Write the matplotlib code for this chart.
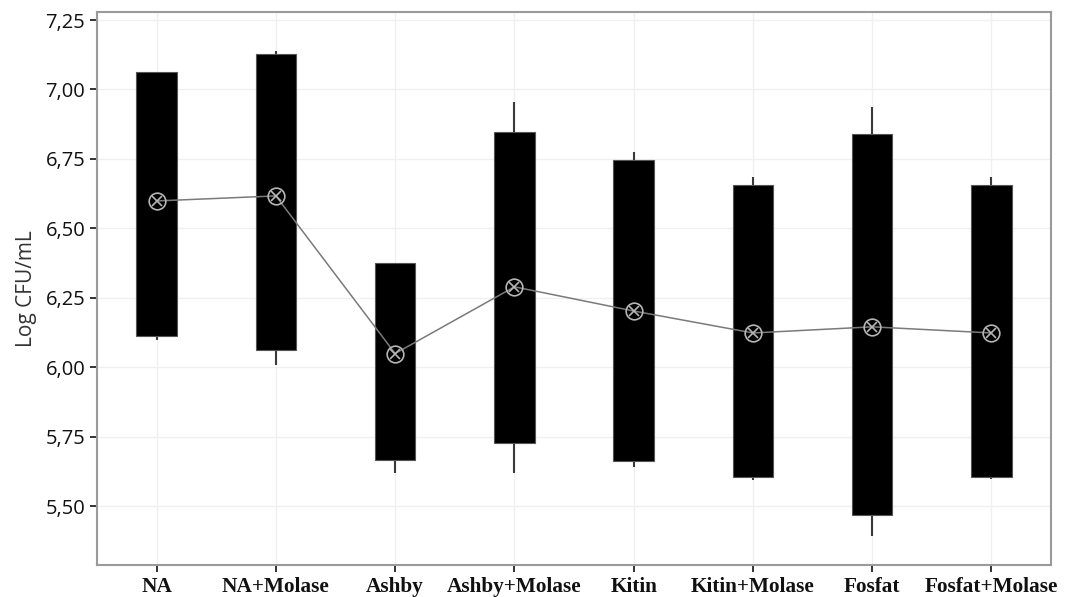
import matplotlib.pyplot as plt
from matplotlib.ticker import FuncFormatter

categories = ["NA", "NA+Molase", "Ashby", "Ashby+Molase", "Kitin",
              "Kitin+Molase", "Fosfat", "Fosfat+Molase"]
q1 = [6.113, 6.063, 5.667, 5.728, 5.664, 5.606, 5.469, 5.606]
q3 = [7.063, 7.128, 6.376, 6.847, 6.746, 6.656, 6.840, 6.656]
whisker_low = [6.100, 6.009, 5.620, 5.620, 5.642, 5.595, 5.394, 5.599]
whisker_high = [7.063, 7.140, 6.376, 6.955, 6.775, 6.685, 6.937, 6.685]
means = [6.599, 6.617, 6.050, 6.290, 6.203, 6.124, 6.146, 6.124]
y_ticks = [5.50, 5.75, 6.00, 6.25, 6.50, 6.75, 7.00, 7.25]

x = list(range(len(categories)))
frame_color = "#9a9a9a"

fig = plt.figure(figsize=(10.66, 5.97), dpi=100)
ax = fig.add_axes([0.091, 0.054, 0.895, 0.926])

# gridlines behind everything
ax.set_axisbelow(True)
ax.grid(True, color="#f0f0f0", linewidth=1)

# whiskers, then boxes on top
ax.vlines(x, whisker_low, whisker_high, color="#3a3a3a", linewidth=1.5, zorder=2)
heights = [h - l for l, h in zip(q1, q3)]
ax.bar(x, heights, bottom=q1, width=0.34, color="black",
       edgecolor="#555555", linewidth=0.8, zorder=3)

# mean connect line and circled-x markers
ax.plot(x, means, color="#7a7a7a", linewidth=1.1, zorder=4)
ax.plot(x, means, linestyle="none", marker="o", markersize=12,
        markerfacecolor="none", markeredgecolor="#b5b5b5", markeredgewidth=1.2, zorder=5)
ax.plot(x, means, linestyle="none", marker="x", markersize=7,
        markeredgecolor="#b5b5b5", markeredgewidth=1.2, zorder=5)

ax.set_xlim(-0.5, 7.5)
ax.set_ylim(5.29, 7.279)
ax.set_yticks(y_ticks)
ax.yaxis.set_major_formatter(FuncFormatter(lambda v, p: f"{v:.2f}".replace(".", ",")))
ax.set_xticks(x)
ax.set_xticklabels(categories, fontfamily="Liberation Serif", fontweight="bold", fontsize=15.3)
ax.tick_params(axis="y", labelsize=14.5, colors="#111111", length=5, width=1.2)
ax.tick_params(axis="x", length=5, width=1.2, colors="#111111", pad=4)
for t in ax.get_xticklines() + ax.get_yticklines():
    t.set_color(frame_color)
for lbl in ax.get_yticklabels():
    lbl.set_fontfamily("Open Sans")

for s in ax.spines.values():
    s.set_color(frame_color)
    s.set_linewidth(1.5)

ax.set_ylabel("Log CFU/mL", fontsize=15, fontfamily="Open Sans", color="#333333", labelpad=6)

plt.savefig("out.png", dpi=100)
